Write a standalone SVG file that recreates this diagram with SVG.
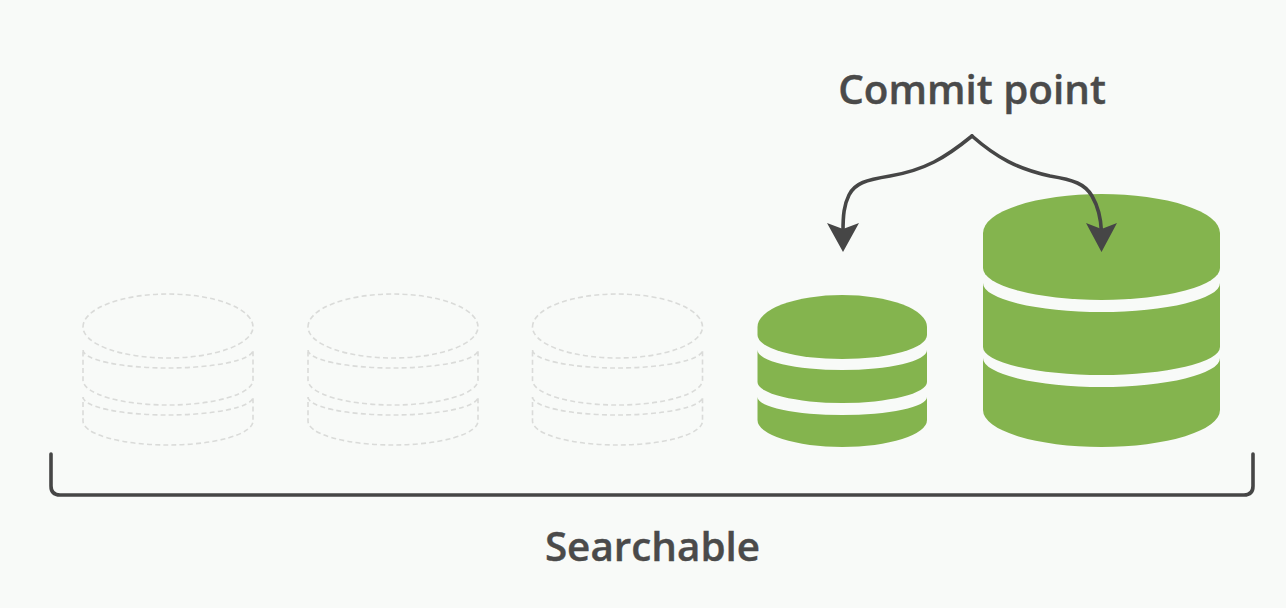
<svg xmlns="http://www.w3.org/2000/svg" xmlns:xlink="http://www.w3.org/1999/xlink" width="1286" height="608" viewBox="0 0 1286 608">
<style>
.g{fill:#84b44e}
.d{fill:none;stroke:#dadbd9;stroke-width:1.6;stroke-dasharray:5 3.2}
.c{fill:none;stroke:#464646;stroke-width:3.6;stroke-linecap:round;stroke-linejoin:round}
.h{fill:#464646}
.t{font-family:"Open Sans","Noto Sans","Liberation Sans",sans-serif;font-weight:600;font-size:40.4px;fill:#4a4a4a;stroke:#4a4a4a;stroke-width:0.4;text-anchor:middle}
</style>
<defs>
<g id="ghost">
<path class="d" d="M83 327A85 33 0 0 1 253 327A85 31 0 0 1 83 327Z"/>
<path class="d" d="M83 350A85 18 0 0 0 253 350V380A85 25 0 0 1 83 380Z"/>
<path class="d" d="M83 397A85 18 0 0 0 253 397V421A85 24 0 0 1 83 421Z"/>
</g>
</defs>
<rect width="1286" height="608" fill="#f8faf8"/>
<g id="segment-1"><use xlink:href="#ghost" href="#ghost"/></g>
<g id="segment-2"><use xlink:href="#ghost" href="#ghost" x="225"/></g>
<g id="segment-3"><use xlink:href="#ghost" href="#ghost" x="449.5"/></g>
<g id="segment-4">
<path class="g" d="M757.5 327A84.75 32 0 0 1 927 327V335A84.75 24 0 0 1 757.5 335Z"/>
<path class="g" d="M757.5 350A84.75 20 0 0 0 927 350V382A84.75 21 0 0 1 757.5 382Z"/>
<path class="g" d="M757.5 397A84.75 18 0 0 0 927 397V420A84.75 27 0 0 1 757.5 420Z"/>
</g>
<g id="segment-5">
<path class="g" d="M983 233A118.5 39 0 0 1 1220 233V268A118.5 32 0 0 1 983 268Z"/>
<path class="g" d="M983 283A118.5 29 0 0 0 1220 283V347A118.5 28 0 0 1 983 347Z"/>
<path class="g" d="M983 358A118.5 29 0 0 0 1220 358V410A118.5 37 0 0 1 983 410Z"/>
</g>
<g id="connectors">
<path class="c" d="M972 136C945 158 925 170 890 176C866 180 855 183 849 195C844 205 843 215 843 232"/>
<path class="c" d="M972 136C997 158 1018 169 1050 176C1074 180 1085 184 1092 196C1099 208 1101 220 1101.5 232"/>
<path class="h" d="M827 223L843 229L859 223L843 252Z"/>
<path class="h" d="M1086 223L1101.5 229L1117 223L1101.5 252Z"/>
<path class="c" d="M51 454V486Q51 495 60 495H1244Q1253 495 1253 486V454"/>
</g>
<g id="labels">
<text class="t" x="972" y="104">Commit point</text>
<text class="t" x="652.5" y="561">Searchable</text>
</g>
</svg>
